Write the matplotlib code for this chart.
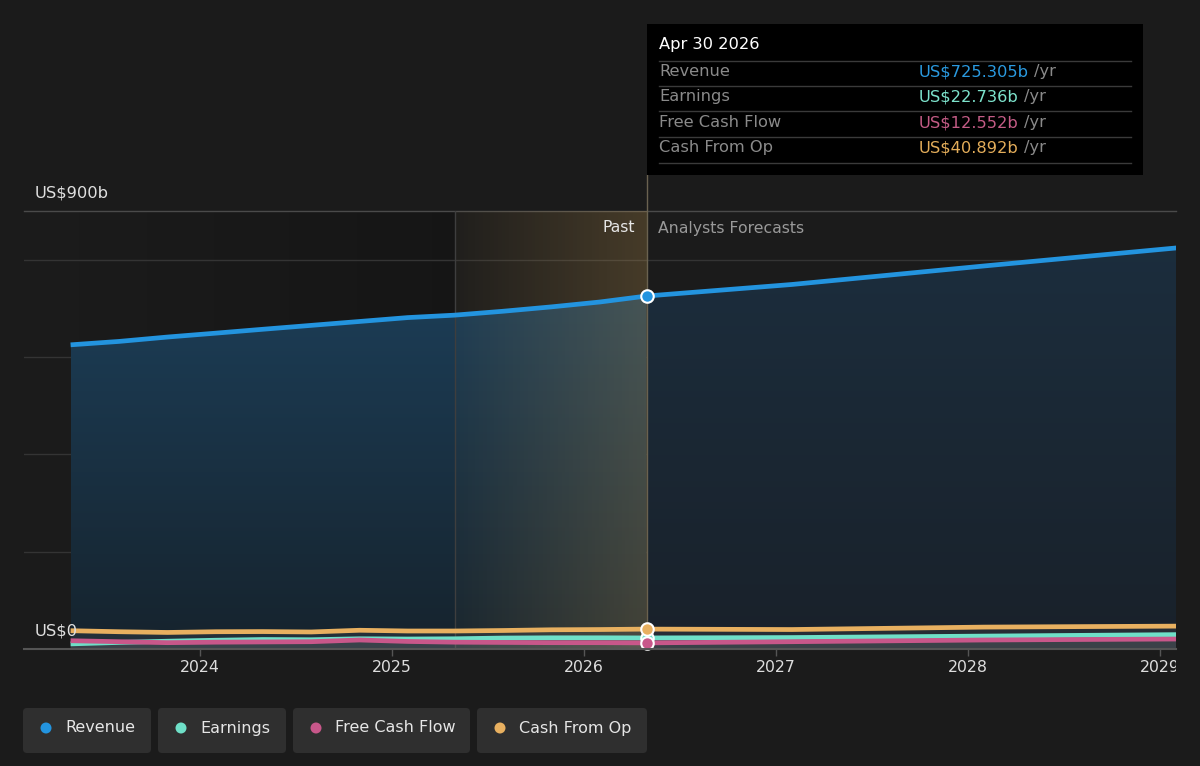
import numpy as np
import pandas as pd
import matplotlib
matplotlib.use("Agg")
import matplotlib.pyplot as plt
from matplotlib.patches import Rectangle, FancyBboxPatch, Circle
from matplotlib.transforms import IdentityTransform, Bbox, TransformedBbox, blended_transform_factory

# ---------------- data ----------------
dates = ["2023-04-30", "2023-07-31", "2023-10-31", "2024-01-31", "2024-04-30",
         "2024-07-31", "2024-10-31", "2025-01-31", "2025-04-30", "2025-07-31",
         "2025-10-31", "2026-01-31", "2026-04-30",
         "2027-01-31", "2028-01-31", "2029-01-31", "2030-01-31"]
revenue = [625.0, 632.0, 641.0, 649.0, 657.0, 665.0, 673.0, 681.0, 686.0, 694.0,
           703.0, 713.0, 725.305, 749.0, 787.0, 824.0, 862.0]
earnings = [10.5, 13.5, 16.0, 18.0, 19.5, 19.0, 21.0, 20.5, 21.0, 22.5,
            23.0, 23.0, 22.736, 23.5, 26.5, 29.5, 31.0]
free_cash_flow = [17.0, 15.0, 13.0, 14.0, 14.5, 15.0, 18.5, 15.5, 14.0, 13.5,
                  13.0, 13.0, 12.552, 15.0, 18.5, 20.5, 22.0]
cash_from_op = [37.6, 35.5, 34.0, 35.5, 35.8, 35.0, 38.5, 37.0, 37.0, 38.0,
                39.5, 40.0, 40.892, 40.0, 45.0, 47.0, 48.5]
series_names = ["Revenue", "Earnings", "Free Cash Flow", "Cash From Op"]
series_colors = ["#2394df", "#6fe0c8", "#c8578a", "#e8b060"]
year_ticks = [2024, 2025, 2026, 2027, 2028, 2029]
highlight_start = "2025-04-30"
split_date = "2026-04-30"
tooltip_title = "Apr 30 2026"
y_top = 900
y_grid = [200, 400, 600, 800]


def dec_year(s):
    ts = pd.Timestamp(s)
    start = pd.Timestamp(year=ts.year, month=1, day=1)
    end = pd.Timestamp(year=ts.year + 1, month=1, day=1)
    return ts.year + (ts - start) / (end - start)


x = np.array([dec_year(d) for d in dates])
xs = dec_year(split_date)
xh = dec_year(highlight_start)
isplit = dates.index(split_date)
data = [np.array(revenue), np.array(earnings), np.array(free_cash_flow), np.array(cash_from_op)]

W, H = 1200, 766
BG = "#1b1b1b"
plt.rcParams["font.family"] = ["DejaVu Sans"]
fig = plt.figure(figsize=(W / 100, H / 100), dpi=100, facecolor=BG)

ax_l, ax_r, ax_t, ax_b = 24, 1176, 211, 649
ax = fig.add_axes([ax_l / W, (H - ax_b) / H, (ax_r - ax_l) / W, (ax_b - ax_t) / H])
ax.set_facecolor(BG)
px_per_year = 192.0
x_left = 2024 - (200 - ax_l) / px_per_year
x_right = 2024 + (ax_r - 200) / px_per_year
ax.set_xlim(x_left, x_right)
ax.set_ylim(0, y_top)
for s in ax.spines.values():
    s.set_visible(False)

# past darkening gradient
grad = np.linspace(0, 1, 256).reshape(1, -1)
dark = np.zeros((1, 256, 4))
dark[..., 3] = grad * 0.20
ax.imshow(dark, extent=[x[0], xh, 0, y_top], aspect="auto", zorder=0.5, interpolation="bilinear")

# grid
for g in y_grid:
    ax.axhline(g, color="#343434", lw=1, zorder=1)
ax.axhline(y_top, color="#4a4a4a", lw=1, zorder=1, clip_on=False)


# revenue fill with vertical gradient (past / forecast)
def grad_fill(xv, yv, top_col, bot_col, z):
    poly = ax.fill_between(xv, 0, yv, color="none", lw=0)
    tc = np.array(matplotlib.colors.to_rgba(top_col))
    bc = np.array(matplotlib.colors.to_rgba(bot_col))
    t = np.linspace(1, 0, 256).reshape(-1, 1, 1)
    img = bc + (tc - bc) * t
    img = np.repeat(img, 2, axis=1)
    im = ax.imshow(img, extent=[xv[0], xv[-1], 0, max(yv)], aspect="auto", zorder=z,
                   interpolation="bilinear")
    path = poly.get_paths()[0]
    im.set_clip_path(path, transform=ax.transData)


rev = data[0]
grad_fill(x[:isplit + 1], rev[:isplit + 1], "#1c3d56", "#16232d", 2)
grad_fill(x[isplit:], rev[isplit:], "#1c2e3e", "#19212a", 2)

# gold highlight band
gold = np.zeros((1, 256, 4))
gold[..., 0] = 0.85
gold[..., 1] = 0.66
gold[..., 2] = 0.34
gold[..., 3] = 0.03 + grad * 0.20
ax.imshow(gold, extent=[xh, xs, 0, y_top], aspect="auto", zorder=3, interpolation="bilinear")
ax.axvline(xh, color="#3e3e3e", lw=1, zorder=3)
ax.axvline(xs, ymin=0, ymax=(ax_b - 175) / (ax_b - ax_t), color="#6a6250", lw=1, zorder=3,
           clip_on=False)

# small series fills and lines
for i in [3, 1, 2]:
    ax.fill_between(x, 0, data[i], color="#9a9a9a", alpha=0.10, lw=0, zorder=3.5)
ax.plot(x, data[0], color=series_colors[0], lw=3.4, zorder=5, solid_capstyle="butt")
for i in [3, 1, 2]:
    ax.plot(x, data[i], color=series_colors[i], lw=3.4, zorder=4, solid_capstyle="butt")
for i in range(4):
    ax.plot([xs], [data[i][isplit]], "o", ms=9, mfc=series_colors[i], mec="white", mew=1.5,
            zorder=6, clip_on=False)

# x ticks
ax.set_yticks([])
ax.set_xticks(year_ticks)
ax.tick_params(axis="x", length=5, color="#555555", width=1, labelbottom=False)
ax.axhline(0, color="#555555", lw=1.5, zorder=6, clip_on=False)
clipbox = TransformedBbox(Bbox([[0, -0.2], [1, 1]]), ax.transAxes)
btrans = blended_transform_factory(ax.transData, ax.transAxes)
for yr in year_ticks:
    t = ax.text(yr, -19 / (ax_b - ax_t), str(yr), transform=btrans, ha="center", va="center",
                color="#dddddd", fontsize=11.3, clip_on=True)
    t.set_clip_box(clipbox)

# Past / Analysts Forecasts labels
ax.annotate("Past", xy=(xs, 1), xycoords=("data", "axes fraction"), xytext=(-12, -17),
            textcoords="offset pixels", ha="right", va="center", color="#e6e6e6", fontsize=11.3,
            zorder=7)
ax.annotate("Analysts Forecasts", xy=(xs, 1), xycoords=("data", "axes fraction"),
            xytext=(11, -17), textcoords="offset pixels", ha="left", va="center",
            color="#999999", fontsize=11.3, zorder=7)

ID = IdentityTransform()


def P(px, py):
    return px, H - py


# y labels
fig.text(*P(35, 193), "US$900b", transform=ID, ha="left", va="center", color="#e0e0e0",
         fontsize=11.7)
fig.text(*P(35, 631), "US$0", transform=ID, ha="left", va="center", color="#e0e0e0",
         fontsize=11.7, zorder=10)

# tooltip
fig.patches.append(Rectangle(P(647, 175), 1143 - 647, 175 - 24, transform=ID, facecolor="black",
                             edgecolor="none", zorder=8))
fig.text(*P(659, 45), tooltip_title, transform=ID, ha="left", va="center", color="white",
         fontsize=11.7, zorder=9)
seps = [60.7, 85.7, 111, 136.7, 162.7]
for sy in seps:
    fig.add_artist(matplotlib.lines.Line2D([659, 1131], [H - sy, H - sy], transform=ID,
                                           color="#3a3a3a", lw=1, zorder=9))
rows_y = [71.7, 96.7, 122.7, 147.7]
val_colors = ["#2a9ae0", "#7de3cc", "#c45c86", "#e3ad5a"]
for i in range(4):
    fig.text(*P(659, rows_y[i]), series_names[i], transform=ID, ha="left", va="center",
             color="#8a8a8a", fontsize=11.7, zorder=9)
    vt = fig.text(*P(919, rows_y[i]), f"US${data[i][isplit]:.3f}b", transform=ID, ha="left",
                  va="center", color=val_colors[i], fontsize=11.7, zorder=9)
    fig.add_artist(matplotlib.text.Annotation("/yr", xy=(1, 0.5), xycoords=vt, xytext=(5, 0),
                                              textcoords="offset pixels", ha="left", va="center",
                                              color="#8a8a8a", fontsize=11.7, zorder=9))

# legend
boxes = [(23, 151), (158, 286), (293, 470), (477, 647)]
for i, (bx0, bx1) in enumerate(boxes):
    fig.patches.append(FancyBboxPatch(P(bx0, 753), bx1 - bx0, 753 - 708,
                                      boxstyle="round,pad=0,rounding_size=4", transform=ID,
                                      facecolor="#2f2f2f", edgecolor="none", zorder=8))
    fig.patches.append(Circle(P(bx0 + 23, 728), 5.5, transform=ID, facecolor=series_colors[i],
                              edgecolor="none", zorder=9))
    fig.text(*P(bx0 + 42, 728), series_names[i], transform=ID, ha="left", va="center",
             color="#e6e6e6", fontsize=11.5, zorder=9)

fig.savefig("out.png", dpi=100, facecolor=BG)
